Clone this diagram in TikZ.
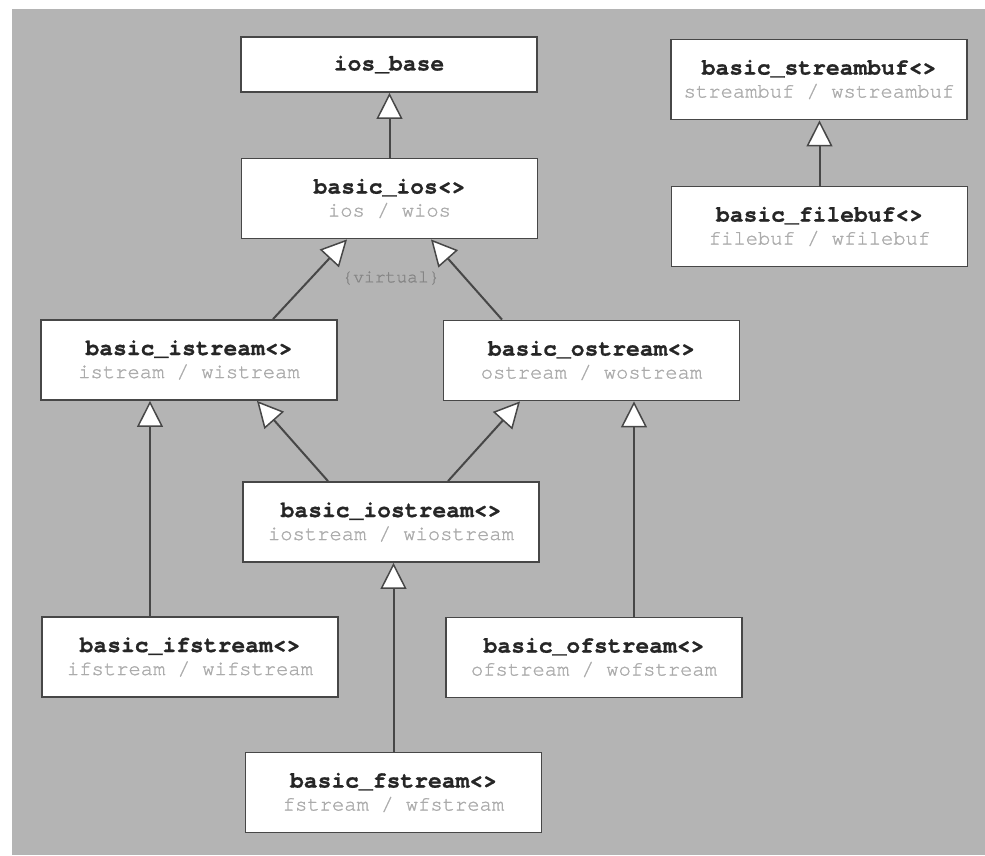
\documentclass[tikz,border=0pt]{standalone}
\usepackage{fontspec}
\setmonofont{TeX Gyre Cursor}[Ligatures=NoCommon, BoldFeatures={FakeBold=0.8}]
\newfontfamily\subfont{TeX Gyre Cursor}[Ligatures=NoCommon, FakeBold=1.2]
\usetikzlibrary{arrows.meta}
\definecolor{bg}{HTML}{B4B4B4}
\definecolor{edge}{HTML}{474747}
\definecolor{ttl}{HTML}{262626}
\definecolor{sub}{HTML}{ABABAB}
\definecolor{virt}{HTML}{858585}
\newcommand\ClsTxt[2]{{\fontsize{23}{23}\selectfont\bfseries\color{ttl}#1}\\{\subfont\fontsize{20.5}{23}\selectfont\color{sub}#2}}
\tikzset{
  cls/.style={draw=edge, line width=1.8pt, fill=white, minimum width=296pt, minimum height=80pt, inner sep=0pt, align=center, font=\ttfamily\fontsize{21}{23}\selectfont},
  inh/.style={draw=edge, line width=2pt, -{Triangle[fill=white, length=26pt, width=26pt, line width=1.5pt]}}
}
\begin{document}
\begin{tikzpicture}[x=1pt,y=-1pt]
\useasboundingbox (0,0) rectangle (985,855);
\fill[white] (0,0) rectangle (985,855);
\fill[bg] (12,9) rectangle (985,855);

\node[cls, minimum height=55pt] (iosbase) at (389,64.5) {{\fontsize{23}{23}\selectfont\bfseries\color{ttl}ios\_base}};
\node[cls] (ios) at (389.5,198.5) {\ClsTxt{basic\_ios<>}{ios / wios}};
\node[cls] (sbuf) at (819,79.5) {\ClsTxt{basic\_streambuf<>}{streambuf / wstreambuf}};
\node[cls] (fbuf) at (819.5,226.5) {\ClsTxt{basic\_filebuf<>}{filebuf / wfilebuf}};
\node[cls] (istr) at (189,360) {\ClsTxt{basic\_istream<>}{istream / wistream}};
\node[cls] (ostr) at (591.5,360.5) {\ClsTxt{basic\_ostream<>}{ostream / wostream}};
\node[cls] (iostr) at (391,522) {\ClsTxt{basic\_iostream<>}{iostream / wiostream}};
\node[cls] (ifstr) at (190,657) {\ClsTxt{basic\_ifstream<>}{ifstream / wifstream}};
\node[cls] (ofstr) at (594,657.5) {\ClsTxt{basic\_ofstream<>}{ofstream / wofstream}};
\node[cls] (fstr) at (393.5,792.5) {\ClsTxt{basic\_fstream<>}{fstream / wfstream}};

\node[font=\subfont\fontsize{18}{18}\selectfont, text=virt] (virtual) at (391,278) {\{virtual\}};

\draw[inh] (ios.north) -- (ios.north |- iosbase.south);
\draw[inh] (fbuf.north) -- (fbuf.north |- sbuf.south);
\draw[inh] ([xshift=84pt]istr.north) -- ([xshift=-42.5pt]ios.south);
\draw[inh] ([xshift=-89.5pt]ostr.north) -- ([xshift=41.5pt]ios.south);
\draw[inh] ([xshift=-63pt]iostr.north) -- ([xshift=68pt]istr.south);
\draw[inh] ([xshift=57pt]iostr.north) -- ([xshift=-71.5pt]ostr.south);
\draw[inh] ([xshift=-40pt]ifstr.north) -- ([xshift=-39pt]istr.south);
\draw[inh] ([xshift=40pt]ofstr.north) -- ([xshift=42.5pt]ostr.south);
\draw[inh] (fstr.north) -- (fstr.north |- iostr.south);
\end{tikzpicture}
\end{document}
